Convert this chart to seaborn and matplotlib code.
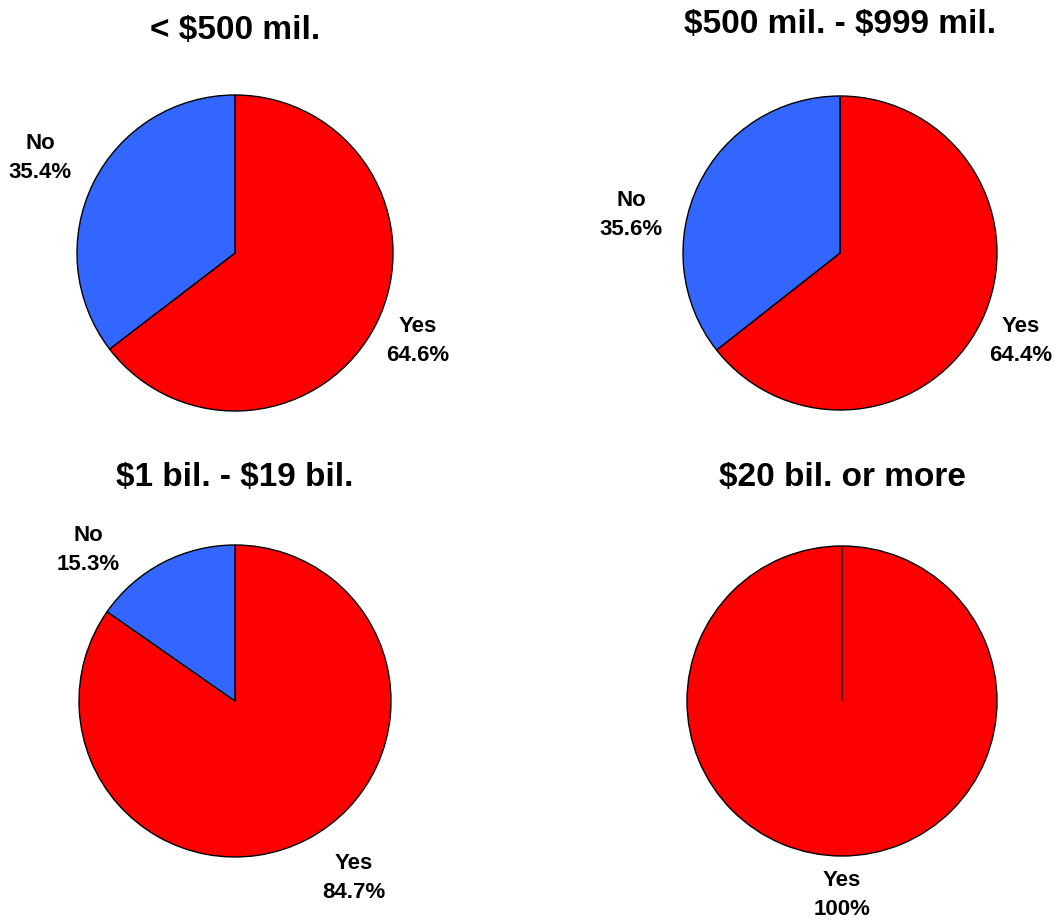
import matplotlib
matplotlib.use("Agg")
import matplotlib.pyplot as plt
import seaborn as sns

sns.set_theme(style="white")
plt.rcParams["font.family"] = ["Liberation Sans", "DejaVu Sans"]
plt.rcParams["text.parse_math"] = False

# Survey answers by company size
groups = ["< $500 mil.", "$500 mil. - $999 mil.", "$1 bil. - $19 bil.", "$20 bil. or more"]
answers = ["Yes", "No"]
yes_pct = [64.6, 64.4, 84.7, 100.0]
no_pct = [35.4, 35.6, 15.3, 0.0]

colors = {"Yes": "#FF0000", "No": "#3366FF"}

W, H = 1056, 923
fig = plt.figure(figsize=(W / 100, H / 100), dpi=100)

# pie centre (px), radius (px), title centre y (px)
layout = [
    dict(c=(235, 253), r=158, ty=30),
    dict(c=(840, 253), r=157, ty=25),
    dict(c=(235, 701), r=156, ty=478),
    dict(c=(842, 701), r=155, ty=478),
]
# label centres in pie-radius units
label_pos = [
    {"Yes": (1.158, -0.557), "No": (-1.234, 0.601)},
    {"Yes": (1.153, -0.560), "No": (-1.331, 0.242)},
    {"Yes": (0.763, -1.135), "No": (-0.942, 0.968)},
    {"Yes": (0.0, -1.252), "No": (0.0, 0.0)},
]


def fmt(v):
    return f"{v:.0f}%" if float(v).is_integer() else f"{v:.1f}%"


for i, g in enumerate(groups):
    lay = layout[i]
    cx, cy = lay["c"]
    r = lay["r"]
    ax = fig.add_axes([(cx - r) / W, 1 - (cy + r) / H, 2 * r / W, 2 * r / H])
    vals = [yes_pct[i], no_pct[i]]
    labs = [f"{a}\n{fmt(v)}" if v > 0 else "" for a, v in zip(answers, vals)]
    cols = [colors[a] for a in answers]
    wedges, texts = ax.pie(
        vals, labels=labs, colors=cols, startangle=90, counterclock=False,
        radius=1.0, wedgeprops=dict(edgecolor="black", linewidth=1.0),
        textprops=dict(fontsize=16, fontweight="bold", ha="center", va="center",
                       linespacing=1.45, color="black"),
    )
    for a, t in zip(answers, texts):
        t.set_position(label_pos[i][a])
    ax.set_xlim(-1, 1)
    ax.set_ylim(-1, 1)
    ax.set_aspect("equal")
    ax.axis("off")
    fig.text(cx / W, 1 - lay["ty"] / H, g, ha="center", va="center",
             fontsize=24, fontweight="bold", color="black")

fig.savefig("out.png", dpi=100)
